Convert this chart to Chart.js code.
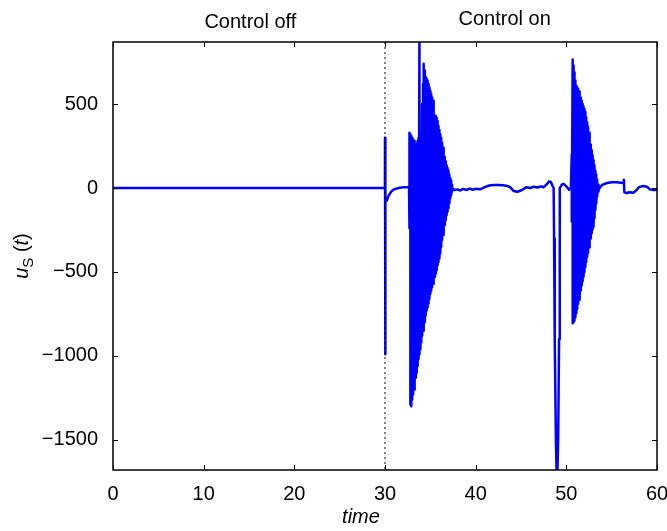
<!DOCTYPE html>
<html>
<head>
<meta charset="utf-8">
<script src="https://cdn.jsdelivr.net/npm/chart.js@4/dist/chart.umd.min.js"></script>
<style>
  html, body { margin: 0; padding: 0; background: #fff; }
</style>
</head>
<body>
<canvas id="chart" width="667" height="531"></canvas>
<script>
// Axis ranges and ticks
const xRange = [0, 60];
const yRange = [-1680, 870];
const xTicks = [0, 10, 20, 30, 40, 50, 60];
const yTicks = [-1500, -1000, -500, 0, 500];
const switchTime = 30;

// Quiet part before the first burst (control off, then switch-on transient)
const calmTimes1 = [0, 29.99, 30.0, 30.02, 30.06, 30.2, 30.4, 30.7, 31.0, 31.5, 32.0, 32.5, 32.65];
const calmValues1 = [0, 0, 300, -990, -80, -75, -45, -20, -8, 0, 5, 5, 5];

// First oscillation burst: upper and lower extremes read at each time
const burst1Times = [32.7, 32.8, 32.9, 33.0, 33.1, 33.2, 33.3, 33.4, 33.5, 33.6,
                     33.7, 33.8, 33.9, 34.0, 34.1, 34.2, 34.3, 34.4, 34.5, 34.6,
                     34.7, 34.8, 34.9, 35.0, 35.1, 35.2, 35.3, 35.4, 35.5, 35.6,
                     35.7, 35.8, 35.9, 36.0, 36.1, 36.2, 36.3, 36.4, 36.5, 36.6,
                     36.7, 36.8, 36.9, 37.0, 37.1, 37.2, 37.3, 37.4];
const burst1Hi = [330, 320, 310, 300, 290, 280, 270, 265, 260, 280,
                  300, 950, 320, 200, 500, 620, 740, 700, 660, 650,
                  640, 620, 600, 580, 560, 540, 520, 500, 300, 430,
                  418, 400, 370, 345, 320, 300, 270, 240, 210, 185,
                  160, 135, 120, 105, 80, 60, 45, 20];
const burst1Lo = [-240, -1290, -1300, -1260, -1230, -1200, -1170, -1130, -1100, -1060,
                  -1020, -990, -960, -920, -880, -850, -820, -800, -760, -730,
                  -710, -690, -660, -630, -610, -590, -570, -550, -530, -510,
                  -490, -460, -440, -420, -390, -350, -310, -280, -250, -220,
                  -190, -160, -140, -120, -90, -60, -40, -20];

// Quiet part between bursts, with the deep dip near t = 49
const calmTimes2 = [37.5, 37.7, 38.0, 38.3, 38.6, 39.0, 39.3, 39.7, 40.0, 40.5,
                    41.0, 41.5, 42.0, 42.5, 43.0, 43.5, 43.8, 44.2, 44.6, 45.0,
                    45.3, 45.6, 46.0, 46.4, 46.8, 47.2, 47.5, 47.8, 48.1, 48.3,
                    48.5, 48.6, 48.65, 48.72, 48.85, 48.97, 49.1, 49.2, 49.25, 49.3,
                    49.4, 49.5, 49.7, 50.0, 50.3, 50.5];
const calmValues2 = [-5, -12, -8, -15, -5, -12, -3, -10, -5, -8,
                     5, 15, 18, 18, 16, 12, 5, -18, -22, -15,
                     -5, 5, 0, 8, 3, 10, 5, 20, 40, 35,
                     10, 0, -300, -900, -1500, -1800, -1500, -900, -300, 0,
                     10, 20, 25, 10, -10, 0];

// Second oscillation burst
const burst2Times = [50.6, 50.7, 50.8, 50.9, 51.0, 51.1, 51.2, 51.3, 51.4, 51.5,
                     51.6, 51.7, 51.8, 51.9, 52.0, 52.1, 52.2, 52.3, 52.4, 52.5,
                     52.6, 52.7, 52.8, 52.9, 53.0, 53.1, 53.2, 53.3, 53.4, 53.5];
const burst2Hi = [200, 765, 730, 690, 640, 610, 600, 590, 575, 565,
                  540, 520, 500, 485, 470, 455, 420, 390, 365, 330,
                  295, 260, 225, 195, 165, 135, 105, 80, 50, 20];
const burst2Lo = [-200, -805, -800, -790, -770, -746, -720, -690, -665, -647,
                  -610, -580, -555, -528, -500, -470, -440, -410, -385, -355,
                  -330, -300, -270, -245, -230, -180, -130, -92, -50, -20];

// Tail after the second burst
const calmTimes3 = [53.6, 53.8, 54.0, 54.5, 55.0, 55.5, 56.0, 56.3, 56.35, 56.4,
                    56.6, 57.0, 57.4, 57.7, 58.0, 58.5, 58.9, 59.2, 59.6, 60];
const calmValues3 = [-10, 10, 20, 30, 35, 35, 32, 30, 50, -25,
                     -30, -25, -28, -15, 5, 12, 8, -8, -12, -10];

const FONT = '"Liberation Sans", Arial, sans-serif';

function pairs(times, values) {
    return times.map((t, i) => ({ x: t, y: values[i] }));
}

function burst(times, hi, lo) {
    const pts = [];
    times.forEach((t, i) => {
        pts.push({ x: t, y: hi[i] });
        pts.push({ x: t, y: lo[i] });
    });
    return pts;
}

const signal = [].concat(
    pairs(calmTimes1, calmValues1),
    burst(burst1Times, burst1Hi, burst1Lo),
    pairs(calmTimes2, calmValues2),
    burst(burst2Times, burst2Hi, burst2Lo),
    pairs(calmTimes3, calmValues3)
);

// Box frame, inward ticks and free text
const framePlugin = {
    id: 'frame',
    afterDatasetsDraw(chart) {
        const { ctx, chartArea: a, scales: { x, y } } = chart;
        ctx.save();
        ctx.strokeStyle = '#000';
        ctx.lineWidth = 1.5;
        ctx.strokeRect(a.left, a.top, a.right - a.left, a.bottom - a.top);

        ctx.lineWidth = 1;
        ctx.beginPath();
        xTicks.forEach(v => {
            const px = Math.round(x.getPixelForValue(v)) + 0.5;
            ctx.moveTo(px, a.bottom); ctx.lineTo(px, a.bottom - 5);
            ctx.moveTo(px, a.top); ctx.lineTo(px, a.top + 5);
        });
        yTicks.forEach(v => {
            const py = Math.round(y.getPixelForValue(v)) + 0.5;
            ctx.moveTo(a.left, py); ctx.lineTo(a.left + 5, py);
            ctx.moveTo(a.right, py); ctx.lineTo(a.right - 5, py);
        });
        ctx.stroke();

        // annotations above the plot
        ctx.fillStyle = '#000';
        ctx.textAlign = 'center';
        ctx.textBaseline = 'alphabetic';
        ctx.font = '20px ' + FONT;
        ctx.fillText('Control off', x.getPixelForValue(15.15), a.top - 14);
        ctx.fillText('Control on', x.getPixelForValue(43.2), a.top - 17);

        // x axis title
        ctx.font = 'italic 20px ' + FONT;
        ctx.fillText('time', x.getPixelForValue(27.35), a.bottom + 53);

        // y axis title: u_S (t)
        const parts = [
            { text: 'u', font: 'italic 20px ' + FONT, dy: 0 },
            { text: 'S', font: '15px ' + FONT, dy: 5 },
            { text: ' (', font: '20px ' + FONT, dy: 0 },
            { text: 't', font: 'italic 20px ' + FONT, dy: 0 },
            { text: ')', font: '20px ' + FONT, dy: 0 }
        ];
        let total = 0;
        parts.forEach(p => { ctx.font = p.font; p.w = ctx.measureText(p.text).width; total += p.w; });
        ctx.translate(28, (a.top + a.bottom) / 2);
        ctx.rotate(-Math.PI / 2);
        ctx.textAlign = 'left';
        let cx = -total / 2;
        parts.forEach(p => {
            ctx.font = p.font;
            ctx.fillText(p.text, cx, p.dy);
            cx += p.w;
        });
        ctx.restore();
    }
};

const minus = v => String(v).replace('-', '\u2212');

new Chart(document.getElementById('chart'), {
    type: 'line',
    data: {
        datasets: [
            {
                label: 'switch',
                data: [{ x: switchTime, y: yRange[1] }, { x: switchTime, y: yRange[0] }],
                borderColor: '#000',
                borderWidth: 1,
                borderDash: [2, 3],
                pointRadius: 0,
                clip: 0
            },
            {
                label: 'u_S(t)',
                data: signal,
                borderColor: '#0000ff',
                borderWidth: 2.5,
                borderJoinStyle: 'round',
                pointRadius: 0,
                tension: 0,
                clip: 0
            }
        ]
    },
    options: {
        responsive: false,
        animation: false,
        devicePixelRatio: 1,
        layout: { padding: { top: 42, right: 10, left: 0, bottom: 0 } },
        plugins: {
            legend: { display: false },
            tooltip: { enabled: false }
        },
        scales: {
            x: {
                type: 'linear',
                min: xRange[0],
                max: xRange[1],
                grid: { display: false, drawTicks: false },
                border: { display: false },
                afterBuildTicks: s => { s.ticks = xTicks.map(v => ({ value: v })); },
                afterFit: s => { s.height = 61; s.paddingLeft = 0; s.paddingRight = 0; },
                ticks: {
                    color: '#000',
                    padding: 12,
                    maxRotation: 0,
                    font: { family: FONT, size: 20 },
                    callback: v => minus(v)
                }
            },
            y: {
                type: 'linear',
                min: yRange[0],
                max: yRange[1],
                grid: { display: false, drawTicks: false },
                border: { display: false },
                afterBuildTicks: s => { s.ticks = yTicks.map(v => ({ value: v })); },
                afterFit: s => { s.width = 113; s.paddingTop = 0; s.paddingBottom = 0; },
                ticks: {
                    color: '#000',
                    padding: 15,
                    font: { family: FONT, size: 20 },
                    callback: v => minus(v)
                }
            }
        }
    },
    plugins: [framePlugin]
});
</script>
</body>
</html>
